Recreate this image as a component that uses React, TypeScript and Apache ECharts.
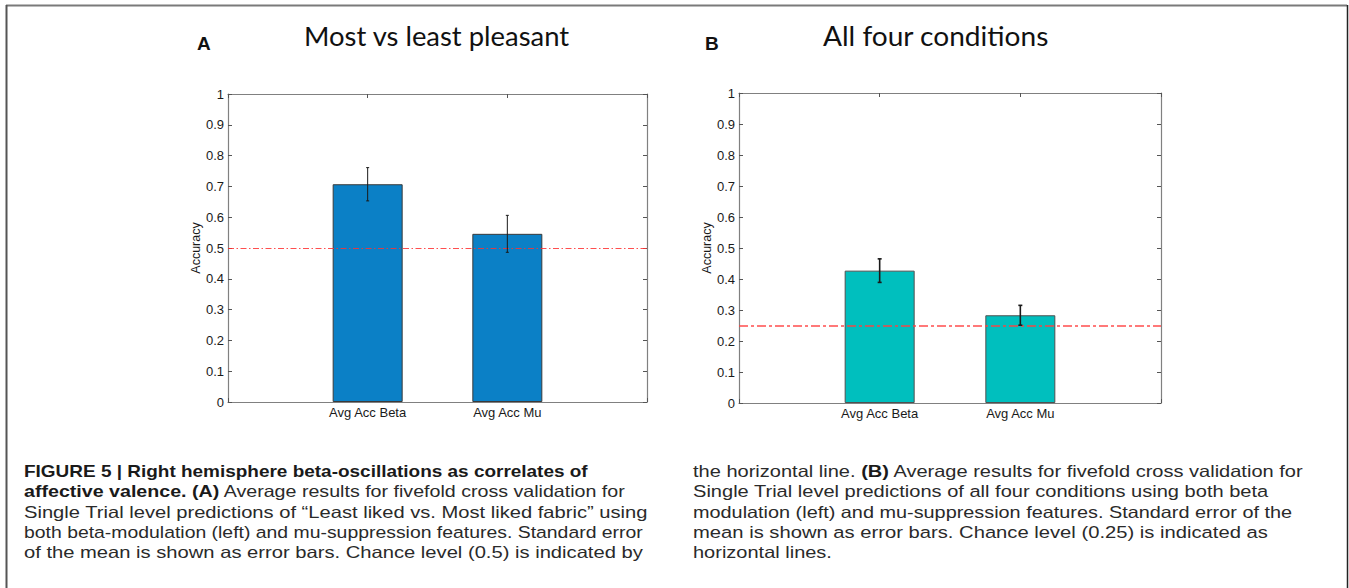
import React, { useEffect, useRef } from "react";
import * as echarts from "echarts";

// ---- data ----
const categories = ["Avg Acc Beta", "Avg Acc Mu"];
const categoryPositions = [1, 2];
const accuracyA = [0.707, 0.546];
const semA = [0.054, 0.06];
const accuracyB = [0.427, 0.283];
const semB = [0.038, 0.032];
const chanceA = 0.5;
const chanceB = 0.25;
const panelTitles = ["Most vs least pleasant", "All four conditions"];
const panelLetters = ["A", "B"];
const yAxisName = "Accuracy";

type Seg = [string, boolean];
const captionLeft: Seg[][] = [
  [["FIGURE 5 | Right hemisphere beta-oscillations as correlates of", true]],
  [["affective valence. (A)", true], [" Average results for fivefold cross validation for", false]],
  [["Single Trial level predictions of \u201CLeast liked vs. Most liked fabric\u201D using", false]],
  [["both beta-modulation (left) and mu-suppression features. Standard error", false]],
  [["of the mean is shown as error bars. Chance level (0.5) is indicated by", false]],
];
const captionRight: Seg[][] = [
  [["the horizontal line. ", false], ["(B)", true], [" Average results for fivefold cross validation for", false]],
  [["Single Trial level predictions of all four conditions using both beta", false]],
  [["modulation (left) and mu-suppression features. Standard error of the", false]],
  [["mean is shown as error bars. Chance level (0.25) is indicated as", false]],
  [["horizontal lines.", false]],
];

// ---- layout ----
const W = 1349;
const H = 588;
const gridsLayout = [
  { left: 228, top: 94, width: 419, height: 308 },
  { left: 739, top: 93, width: 422, height: 310 },
];
const captionLeftX = 24;
const captionLeftEnds = [588, 626, 648, 643, 643];
const captionRightX = 693;
const captionRightEnds = [1304, 1269, 1292, 1268, 832];
const captionY0 = 471;
const captionDY = 20.4;
const titleBoxes = [
  { x0: 304, x1: 570 },
  { x0: 823, x1: 1049 },
];
const letterX = [197, 705];

const AX_FONT = "'Liberation Sans', Arial, sans-serif";
const CAP_FONT = "'Liberation Sans', Arial, sans-serif";
const TITLE_FONT = "Lato, 'Open Sans', sans-serif";
const CAP_SIZE = 16.5;

function measure(text: string, font: string): number {
  const c = document.createElement("canvas");
  const ctx = c.getContext("2d");
  if (!ctx) return text.length * 7;
  ctx.font = font;
  return ctx.measureText(text).width;
}

function captionGraphics(lines: Seg[][], x: number, ends: number[]) {
  const out: any[] = [];
  lines.forEach((segs, i) => {
    let natural = 0;
    segs.forEach(([t, b]) => {
      natural += measure(t, `${b ? "bold " : ""}${CAP_SIZE}px ${CAP_FONT}`);
    });
    const sx = (ends[i] - x) / natural;
    const text = segs.map(([t, b]) => `{${b ? "b" : "n"}|${t}}`).join("");
    out.push({
      type: "text",
      x,
      y: captionY0 + i * captionDY,
      scaleX: sx,
      style: {
        text,
        fontSize: CAP_SIZE,
        fontFamily: CAP_FONT,
        fill: "#222",
        verticalAlign: "middle",
        align: "left",
        rich: {
          b: { fontSize: CAP_SIZE, fontFamily: CAP_FONT, fontWeight: "bold", fill: "#1a1a1a" },
          n: { fontSize: CAP_SIZE, fontFamily: CAP_FONT, fontWeight: "normal", fill: "#2a2a2a" },
        },
      },
    });
  });
  return out;
}

function axisPair(gi: number) {
  const base = {
    type: "value" as const,
    gridIndex: gi,
    splitLine: { show: false },
    axisLine: { show: true, onZero: false, lineStyle: { color: "#808080", width: 1.2 } },
    axisTick: { show: true, inside: true, length: 4, lineStyle: { color: "#555" } },
  };
  const xAxes = [
    {
      ...base,
      min: 0,
      max: 3,
      interval: 1,
      position: "bottom",
      axisLabel: {
        formatter: (v: number) => {
          const idx = categoryPositions.indexOf(v);
          return idx >= 0 ? categories[idx] : "";
        },
        color: "#1a1a1a",
        fontSize: 13,
        fontFamily: AX_FONT,
        margin: 4,
      },
    },
    {
      ...base,
      min: 0,
      max: 3,
      interval: 1,
      position: "top",
      axisLabel: { show: false },
    },
  ];
  const yAxes = [
    {
      ...base,
      min: 0,
      max: 1,
      interval: 0.1,
      position: "left",
      name: yAxisName,
      nameLocation: "middle",
      nameGap: 24,
      nameTextStyle: { fontSize: 12.5, fontFamily: AX_FONT, color: "#1a1a1a" },
      axisLabel: {
        formatter: (v: number) => String(Math.round(v * 10) / 10),
        color: "#1a1a1a",
        fontSize: 13,
        fontFamily: AX_FONT,
        margin: 4,
        showMinLabel: true,
        showMaxLabel: true,
      },
    },
    {
      ...base,
      min: 0,
      max: 1,
      interval: 0.1,
      position: "right",
      axisLabel: { show: false },
    },
  ];
  return { xAxes, yAxes };
}

function errorSeries(gi: number, acc: number[], sem: number[], lw: number, cap: number) {
  return {
    type: "custom",
    xAxisIndex: gi * 2,
    yAxisIndex: gi * 2,
    z: 6,
    silent: true,
    encode: { x: 0, y: [1, 2] },
    data: acc.map((v, i) => [categoryPositions[i], v - sem[i], v + sem[i]]),
    renderItem: (_params: any, api: any) => {
      const x = api.value(0);
      const p1 = api.coord([x, api.value(1)]);
      const p2 = api.coord([x, api.value(2)]);
      const st = { stroke: "#1a1a1a", lineWidth: lw };
      return {
        type: "group",
        children: [
          { type: "line", shape: { x1: p1[0], y1: p1[1], x2: p2[0], y2: p2[1] }, style: st },
          { type: "line", shape: { x1: p1[0] - cap, y1: p1[1], x2: p1[0] + cap, y2: p1[1] }, style: st },
          { type: "line", shape: { x1: p2[0] - cap, y1: p2[1], x2: p2[0] + cap, y2: p2[1] }, style: st },
        ],
      };
    },
  };
}

function barSeries(
  gi: number,
  acc: number[],
  color: string,
  border: string,
  chance: number,
  chanceStyle: any
) {
  return {
    type: "bar",
    xAxisIndex: gi * 2,
    yAxisIndex: gi * 2,
    barWidth: 70,
    data: acc.map((v, i) => [categoryPositions[i], v]),
    itemStyle: { color, borderColor: border, borderWidth: 1 },
    silent: true,
    markLine: {
      silent: true,
      symbol: ["none", "none"],
      label: { show: false },
      lineStyle: chanceStyle,
      data: [{ yAxis: chance }],
    },
  };
}

export default function App() {
  const ref = useRef<HTMLDivElement>(null);
  useEffect(() => {
    document.body.style.margin = "0";
    document.body.style.background = "#fff";
    if (!ref.current) return;
    const chart = echarts.init(ref.current, undefined, { renderer: "svg", width: W, height: H });

    const a = axisPair(0);
    const b = axisPair(1);

    const titleGraphics = panelTitles.map((t, i) => {
      const nat = measure(t, `27px ${TITLE_FONT}`);
      const box = titleBoxes[i];
      return {
        type: "text",
        x: box.x0,
        y: 36,
        scaleX: (box.x1 - box.x0) / nat,
        style: {
          text: t,
          fontSize: 27,
          fontFamily: TITLE_FONT,
          fill: "#111",
          align: "left",
          verticalAlign: "middle",
        },
      };
    });
    const letterGraphics = panelLetters.map((t, i) => ({
      type: "text",
      x: letterX[i],
      y: 43,
      style: {
        text: t,
        fontSize: 19,
        fontWeight: "bold",
        fontFamily: AX_FONT,
        fill: "#111",
        align: "left",
        verticalAlign: "middle",
      },
    }));

    const frame = [
      { type: "line", shape: { x1: 6, y1: 5.5, x2: 1347, y2: 5.5 }, style: { stroke: "#7a7a7a", lineWidth: 2 } },
      { type: "line", shape: { x1: 6.5, y1: 5, x2: 6.5, y2: H }, style: { stroke: "#555", lineWidth: 2 } },
      { type: "line", shape: { x1: 1347.5, y1: 5, x2: 1347.5, y2: H }, style: { stroke: "#222", lineWidth: 1.5 } },
    ];

    chart.setOption({
      animation: false,
      backgroundColor: "#fff",
      grid: gridsLayout.map((g) => ({ ...g, containLabel: false })),
      xAxis: [...a.xAxes, ...b.xAxes],
      yAxis: [...a.yAxes, ...b.yAxes],
      series: [
        barSeries(0, accuracyA, "#0b80c6", "#3a3a3a", chanceA, {
          color: "#ff3030",
          width: 1,
          opacity: 0.85,
          type: [6, 2.5, 1.5, 2.5],
        }),
        errorSeries(0, accuracyA, semA, 1, 1.5),
        barSeries(1, accuracyB, "#00bfbe", "#505050", chanceB, {
          color: "#ff4040",
          width: 2,
          opacity: 0.7,
          type: [9, 3, 3, 3],
        }),
        errorSeries(1, accuracyB, semB, 1.6, 2),
      ],
      graphic: [
        ...frame,
        ...titleGraphics,
        ...letterGraphics,
        ...captionGraphics(captionLeft, captionLeftX, captionLeftEnds),
        ...captionGraphics(captionRight, captionRightX, captionRightEnds),
      ],
    });
    return () => chart.dispose();
  }, []);
  return <div ref={ref} style={{ width: W, height: H }} />;
}
